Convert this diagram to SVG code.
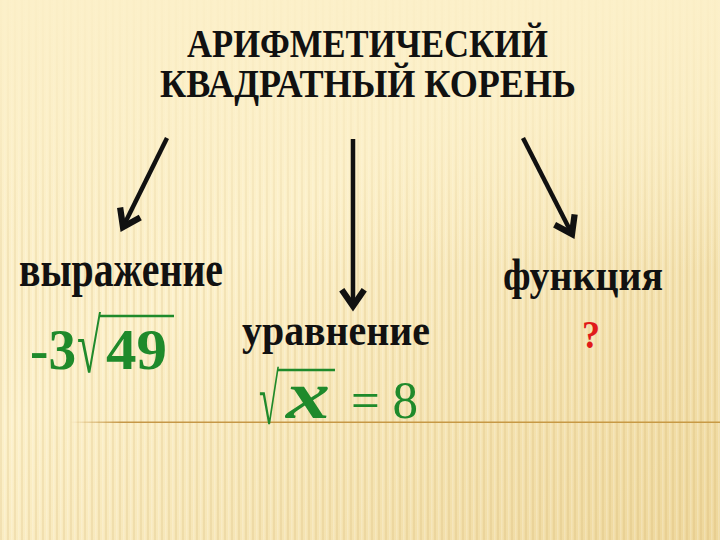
<svg xmlns="http://www.w3.org/2000/svg" width="720" height="540" viewBox="0 0 720 540">
<defs>
<linearGradient id="bg" x1="0" y1="0" x2="1" y2="1">
<stop offset="0" stop-color="#fbeec6"/>
<stop offset="0.4" stop-color="#fcf0c9"/>
<stop offset="1" stop-color="#eed79b"/>
</linearGradient>
<pattern id="stripes" width="7" height="540" patternUnits="userSpaceOnUse">
<rect x="0" y="0" width="2" height="540" fill="#c9a55a" opacity="0.16"/>
<rect x="4" y="0" width="1.5" height="540" fill="#ffffff" opacity="0.2"/>
</pattern>
<linearGradient id="fadeTop" x1="0" y1="0" x2="0" y2="1">
<stop offset="0" stop-color="#fcf0c9" stop-opacity="0.9"/>
<stop offset="0.25" stop-color="#fcf0c9" stop-opacity="0.6"/>
<stop offset="0.5" stop-color="#fcf0c9" stop-opacity="0"/>
</linearGradient>
<linearGradient id="rule" gradientUnits="userSpaceOnUse" x1="70" y1="0" x2="720" y2="0">
<stop offset="0" stop-color="#c08e3a" stop-opacity="0"/>
<stop offset="0.08" stop-color="#c08e3a" stop-opacity="0.9"/>
<stop offset="1" stop-color="#c89a45" stop-opacity="1"/>
</linearGradient>
<marker id="chev" markerUnits="userSpaceOnUse" markerWidth="30" markerHeight="30" refX="0" refY="0" viewBox="-16 -12 20 24" orient="auto">
<path d="M -13 -9 L 0 0 L -13 9" fill="none" stroke="#111111" stroke-width="5" stroke-linejoin="miter" stroke-linecap="butt"/>
</marker>
<style>
.title{font-family:"Liberation Serif","Times New Roman",serif;font-weight:bold;fill:#111;font-size:39px}
.lbl{font-family:"Liberation Serif","Times New Roman",serif;font-weight:bold;fill:#111}
.grn{font-family:"Liberation Serif","Times New Roman",serif;fill:#1f8a2b}
.arrow{stroke:#111111;stroke-width:4.5;fill:none;marker-end:url(#chev)}
.rad{stroke:#1f8a2b;fill:none}
</style>
</defs>
<rect width="720" height="540" fill="url(#bg)"/>
<rect width="720" height="540" fill="url(#stripes)"/>
<rect width="720" height="540" fill="url(#fadeTop)"/>
<rect x="70" y="421.5" width="650" height="1.5" fill="url(#rule)"/>

<g id="title">
<text class="title" x="187" y="57" textLength="361" lengthAdjust="spacingAndGlyphs">АРИФМЕТИЧЕСКИЙ</text>
<text class="title" x="160" y="97" textLength="416" lengthAdjust="spacingAndGlyphs">КВАДРАТНЫЙ КОРЕНЬ</text>
</g>

<g id="connectors">
<line class="arrow" x1="167" y1="138" x2="123" y2="227"/>
<line class="arrow" x1="353" y1="139" x2="353" y2="306"/>
<line class="arrow" x1="523" y1="138" x2="572" y2="234"/>
</g>

<g id="expression">
<text class="lbl" x="19" y="286" font-size="50" textLength="204" lengthAdjust="spacingAndGlyphs">выражение</text>
<text class="grn" x="30" y="369" font-size="58" font-weight="bold" textLength="46" lengthAdjust="spacingAndGlyphs">-3</text>
<text class="grn" x="77" y="372" font-size="76" textLength="24" lengthAdjust="spacingAndGlyphs">√</text>
<line class="rad" x1="100" y1="316" x2="174" y2="316" stroke-width="2.5"/>
<text class="grn" x="106" y="369" font-size="58" font-weight="bold" textLength="61" lengthAdjust="spacingAndGlyphs">49</text>
</g>

<g id="equation">
<text class="lbl" x="242" y="345" font-size="44" textLength="188" lengthAdjust="spacingAndGlyphs">уравнение</text>
<text class="grn" x="259" y="424" font-size="72" textLength="20" lengthAdjust="spacingAndGlyphs">√</text>
<line class="rad" x1="277" y1="370" x2="335" y2="370" stroke-width="2.5"/>
<text class="grn" x="286" y="418" font-size="68" font-weight="bold" font-style="italic" textLength="44" lengthAdjust="spacingAndGlyphs">x</text>
<text class="grn" x="351" y="418" font-size="52" textLength="67" lengthAdjust="spacingAndGlyphs">= 8</text>
</g>

<g id="function">
<text class="lbl" x="503" y="290" font-size="44" textLength="160" lengthAdjust="spacingAndGlyphs">функция</text>
<text x="582" y="348" font-family="'Liberation Serif','Times New Roman',serif" font-size="40" font-weight="bold" fill="#e01a1a" textLength="18" lengthAdjust="spacingAndGlyphs">?</text>
</g>
</svg>
